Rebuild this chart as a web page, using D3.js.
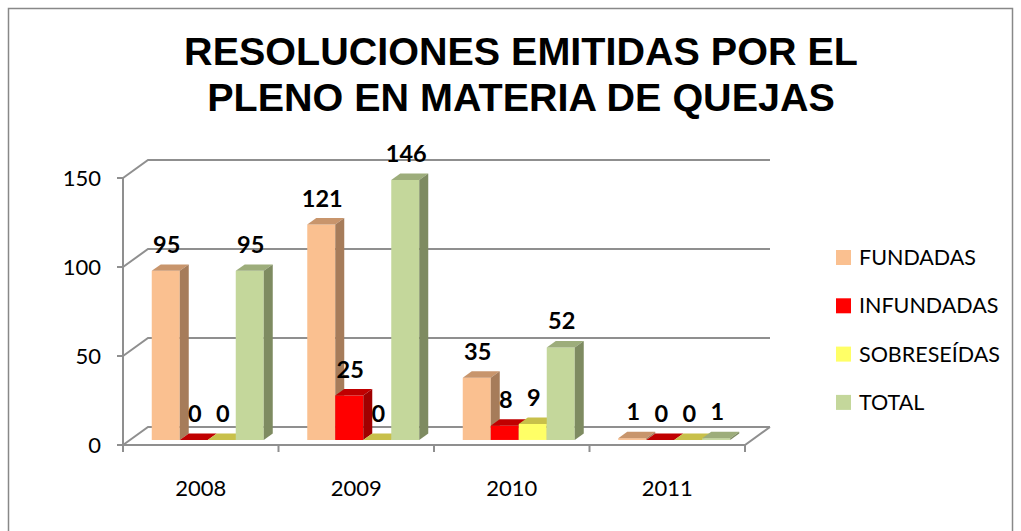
<!DOCTYPE html>
<html>
<head>
<meta charset="utf-8">
<script src="https://cdn.jsdelivr.net/npm/d3@7"></script>
<style>
  html, body { margin: 0; padding: 0; background: #fff; }
  svg { display: block; }
</style>
</head>
<body>
<svg id="chart" width="1021" height="531"></svg>
<script>
// data
var years = ['2008', '2009', '2010', '2011'];
var series = ['FUNDADAS', 'INFUNDADAS', 'SOBRESEÍDAS', 'TOTAL'];
var fundadas = [95, 121, 35, 1];
var infundadas = [0, 25, 8, 0];
var sobreseidas = [0, 0, 9, 0];
var total = [95, 146, 52, 1];
var yTicks = [0, 50, 100, 150];
var titleLines = ['RESOLUCIONES EMITIDAS POR EL', 'PLENO EN MATERIA DE QUEJAS'];

var values = [fundadas, infundadas, sobreseidas, total];
// front / top / side shades per series
var frontC = ['#fac090', '#ff0000', '#ffff66', '#c4d79b'],
    topC = ['#c8956c', '#c00000', '#c8c04a', '#9dad7b'],
    sideC = ['#a67c5a', '#a00000', '#b0a83c', '#7e8b61'];

var svg = d3.select('#chart');

// outer frame
svg.append('rect')
    .attr('x', 8.5).attr('y', 8.5)
    .attr('width', 1004).attr('height', 540)
    .attr('fill', 'none').attr('stroke', '#888').attr('stroke-width', 1.5);

// title
svg.append('g').selectAll('text')
    .data(titleLines)
    .enter().append('text')
    .attr('x', 521)
    .attr('y', function(d, i) { return 65 + i * 46; })
    .attr('text-anchor', 'middle')
    .attr('font-family', 'Liberation Sans, Arial, sans-serif')
    .attr('font-weight', 'bold')
    .attr('font-size', '39.5px')
    .attr('fill', '#000')
    .text(String);

// scales
var x0 = d3.scaleBand().domain(years).range([123, 745]);
var x1 = d3.scaleBand().domain(series).range([21.75, 133.75]);
var y = d3.scaleLinear().domain([0, 150]).range([445, 178]);

// depth vector of the whole plot (front plane -> back wall)
var DX = 25, DY = -18;
function pt(px, py, d) { return [px + d * DX, py + d * DY]; }

var grid = svg.append('g')
    .attr('stroke', '#8f8f8f').attr('stroke-width', 2).attr('fill', 'none');

// gridlines on side wall and back wall
yTicks.forEach(function(t) {
    var a = pt(123, y(t), 0), b = pt(123, y(t), 1), c = pt(745, y(t), 1);
    grid.append('path').attr('d', d3.line()([a, b, c]));
});
// floor front edge and right edge
grid.append('path').attr('d', d3.line()([pt(123, y(0), 0), pt(745, y(0), 0), pt(745, y(0), 1)]));
// value axis line
grid.append('line')
    .attr('x1', 123).attr('x2', 123).attr('y1', y(150)).attr('y2', y(0));
// value ticks
yTicks.forEach(function(t) {
    grid.append('line').attr('x1', 117).attr('x2', 123).attr('y1', y(t)).attr('y2', y(t));
});
// category ticks
var catEdges = years.map(function(d) { return x0(d); }).concat([745]);
catEdges.forEach(function(cx) {
    grid.append('line').attr('x1', cx).attr('x2', cx).attr('y1', y(0)).attr('y2', y(0) + 7);
});

var labelFont = 'Lato, Calibri, sans-serif';

// value tick labels
svg.append('g').selectAll('text')
    .data(yTicks)
    .enter().append('text')
    .attr('x', 101)
    .attr('y', function(d) { return y(d); })
    .attr('dy', '0.36em')
    .attr('text-anchor', 'end')
    .attr('font-family', labelFont)
    .attr('font-size', '22px')
    .attr('fill', '#000')
    .text(String);

// category labels
svg.append('g').selectAll('text')
    .data(years)
    .enter().append('text')
    .attr('x', function(d) { return x0(d) + x0.bandwidth() / 2; })
    .attr('y', 496)
    .attr('text-anchor', 'middle')
    .attr('font-family', labelFont)
    .attr('font-size', '22px')
    .attr('fill', '#000')
    .text(String);

// 3d bars
var d0 = 0.28, d1 = 0.64;
var bars = svg.append('g');
var labels = svg.append('g');
years.forEach(function(yr, i) {
    series.forEach(function(s, j) {
        var v = values[j][i];
        var xl = x0(yr) + x1(s), xr = xl + x1.bandwidth();
        var yt = y(v), yb = y(0);
        var g = bars.append('g');
        var fl = pt(xl, yt, d0), fr = pt(xr, yt, d0), fbr = pt(xr, yb, d0), fbl = pt(xl, yb, d0);
        var bl = pt(xl, yt, d1), br = pt(xr, yt, d1), bbr = pt(xr, yb, d1);
        // front face
        g.append('path').attr('d', d3.line()([fl, fr, fbr, fbl]) + 'Z').attr('fill', frontC[j]);
        // top face
        g.append('path').attr('d', d3.line()([fl, bl, br, fr]) + 'Z').attr('fill', topC[j]);
        // right side face
        g.append('path').attr('d', d3.line()([fr, br, bbr, fbr]) + 'Z').attr('fill', sideC[j]);

        labels.append('text')
            .attr('x', (xl + xr) / 2 + d0 * DX + 1)
            .attr('y', yt - 23)
            .attr('text-anchor', 'middle')
            .attr('font-family', labelFont)
            .attr('font-weight', 'bold')
            .attr('font-size', '23.5px')
            .attr('fill', '#000')
            .text(v);
    });
});

// legend
var legend = svg.append('g').attr('transform', 'translate(836,250)');
var item = legend.selectAll('g')
    .data(series)
    .enter().append('g')
    .attr('transform', function(d, i) { return 'translate(0,' + (i * 48.3) + ')'; });
item.append('rect')
    .attr('width', 15).attr('height', 15)
    .attr('fill', function(d, i) { return frontC[i]; });
item.append('text')
    .attr('x', 23)
    .attr('y', 15)
    .attr('font-family', labelFont)
    .attr('font-size', '21.5px')
    .attr('fill', '#000')
    .text(String);
</script>
</body>
</html>
